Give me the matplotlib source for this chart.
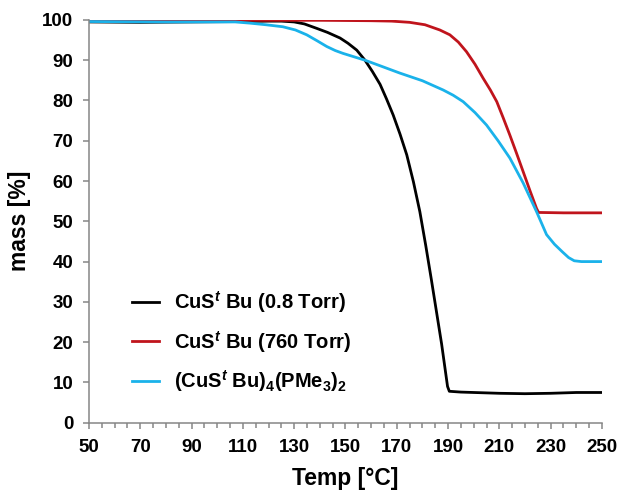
import numpy as np
import matplotlib.pyplot as plt
from matplotlib.ticker import MultipleLocator

plt.rcParams['font.family'] = ['Liberation Sans', 'DejaVu Sans']
plt.rcParams['font.weight'] = 'bold'
plt.rcParams['mathtext.fontset'] = 'custom'
plt.rcParams['mathtext.rm'] = 'Liberation Sans:bold'
plt.rcParams['mathtext.it'] = 'Liberation Sans:italic:bold'
plt.rcParams['mathtext.bf'] = 'Liberation Sans:bold'

# TGA curves
t_low = [50, 70, 90, 110, 120, 125, 130, 134, 138.8, 143, 147.9, 151, 154.4, 157.6,
         160.5, 163.5, 166, 168.6, 171.3, 173.9, 176.5, 179, 181.3, 183.5, 185.5, 187.5,
         189.8, 190.5, 195, 200, 210, 220, 230, 240, 250]
m_low = [99.5, 99.4, 99.5, 99.6, 99.7, 99.7, 99.5, 99, 97.9, 96.9, 95.5, 94.2, 92.5, 90,
         87.2, 84, 80.4, 76.4, 71.6, 66.5, 59.8, 52.4, 44, 35.5, 27.5, 19.5, 9, 7.8, 7.6,
         7.5, 7.3, 7.2, 7.3, 7.5, 7.5]

t_atm = [50, 80, 110, 140, 160, 168, 175, 181, 186.8, 190.7, 194, 197.2, 200.5, 203.7,
         206.5, 209, 211.5, 214.1, 216.7, 219.3, 222, 224.5, 225.3, 235, 250]
m_atm = [99.8, 99.8, 99.9, 99.9, 99.8, 99.7, 99.4, 98.8, 97.5, 96.3, 94.5, 92.1, 89,
         85.5, 82.6, 79.7, 75.7, 71.4, 66.9, 62.3, 57.5, 53.2, 52.2, 52.1, 52.1]

t_pme = [50, 80, 100, 107, 112.8, 119, 125.6, 130.5, 134.9, 139, 142.7, 146, 149,
         157.6, 164, 171.2, 180, 188.1, 192, 195.9, 200.5, 205, 209.5, 214.1, 219.3,
         224.5, 228.4, 231.5, 234.6, 237, 239.2, 242, 250]
m_pme = [99.6, 99.5, 99.5, 99.5, 99.2, 98.8, 98.3, 97.5, 96.3, 94.8, 93.4, 92.4, 91.7,
         90, 88.5, 86.8, 84.9, 82.6, 81.3, 79.7, 77, 73.9, 70, 65.7, 59.5, 52.4, 46.7,
         44.3, 42.4, 41, 40.2, 40, 40]

labels = [r'CuS$^{\mathit{t}}$ Bu (0.8 Torr)',
          r'CuS$^{\mathit{t}}$ Bu (760 Torr)',
          r'(CuS$^{\mathit{t}}$ Bu)$_4$(PMe$_3$)$_2$']

fig = plt.figure(figsize=(6.21, 4.93), dpi=100)
ax = fig.add_axes([0.1433, 0.1426, 0.826, 0.817])

ax.plot(t_low, m_low, color='black', lw=2, label=labels[0])
ax.plot(t_atm, m_atm, color='#c0141c', lw=2, label=labels[1])
ax.plot(t_pme, m_pme, color='#1ab2ea', lw=2, label=labels[2])

ax.set_xlim(50, 250)
ax.set_ylim(0, 100)
ax.set_xticks(np.arange(50, 251, 20))
ax.xaxis.set_minor_locator(MultipleLocator(5))
ax.set_yticks(np.arange(0, 101, 10))

for s in ['top', 'right']:
    ax.spines[s].set_visible(False)
for s in ['left', 'bottom']:
    ax.spines[s].set_color('#868686')
    ax.spines[s].set_linewidth(1.1)
ax.tick_params(axis='both', which='both', color='#868686', labelsize=13.5, width=1.1)
ax.tick_params(axis='y', which='major', length=4.3, pad=7)
ax.tick_params(axis='x', which='major', length=4, pad=8)
ax.tick_params(axis='x', which='minor', length=3.5)
for lbl in ax.get_xticklabels() + ax.get_yticklabels():
    lbl.set_fontweight('bold')

ax.set_xlabel('Temp [°C]', fontsize=16.5, fontweight='bold', labelpad=8)
ax.set_ylabel('mass [%]', fontsize=16.5, fontweight='bold', labelpad=8)

ax.legend(loc='upper left', bbox_to_anchor=(0.084, 0.332), frameon=False, fontsize=14.5,
          handlelength=1.34, handletextpad=0.75, labelspacing=0.69,
          borderpad=0, borderaxespad=0)

fig.savefig('out.png', dpi=100)
